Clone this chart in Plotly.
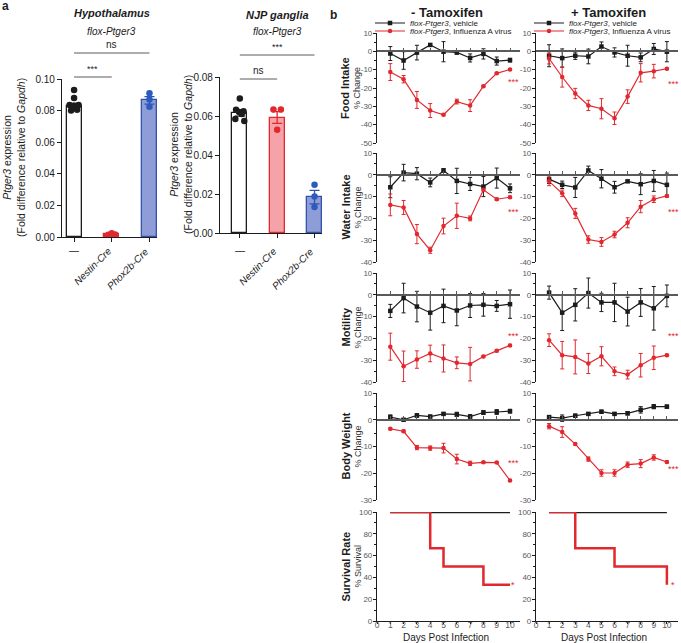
import plotly.graph_objects as go

W, H = 681, 643
FONT = "Arial, Liberation Sans, sans-serif"
INK = "#1c1c1c"
RED = "#e2282f"
BLUE = "#2a5cbf"
GREY = "#5a5a5a"

# ---- panel a: Ptger3 expression (qPCR)
genotypes = ["—", "Nestin-Cre", "Phox2b-Cre"]
hypo_mean = [0.0828, 0.0018, 0.0865]
hypo_sem = [0.0018, 0.0004, 0.0024]
hypo_dots = [
    [0.093, 0.088, 0.0835, 0.083, 0.0835, 0.0800, 0.0805],
    [0.0015, 0.0024, 0.0016],
    [0.0910, 0.0870, 0.0825],
]
njp_mean = [0.0615, 0.0592, 0.0184]
njp_sem = [0.0016, 0.0030, 0.0035]
njp_dots = [
    [0.069, 0.0632, 0.0625, 0.0620, 0.0610, 0.0585, 0.0575],
    [0.0633, 0.0633, 0.0530],
    [0.0247, 0.0187, 0.0133],
]

# ---- panel b: % change after infection, days 1-10
days = list(range(1, 11))

food_veh_m = [-1.2, -5.0, -0.7, 3.5, -0.2, -0.6, -3.6, -1.4, -5.3, -4.8]
food_veh_m_err = [3.8, 4.8, 4.0, 0.6, 5.5, 1.0, 2.2, 2.8, 2.2, 1.0]
food_flu_m = [-11.3, -15.2, -26.5, -32.3, -34.6, -27.4, -29.6, -19.0, -12.0, -9.9]
food_flu_m_err = [4.6, 2.0, 4.6, 3.8, 0.5, 1.3, 3.2, 0.5, 0.5, 0.5]
food_veh_p = [-2.4, -3.7, -2.4, -2.8, 2.6, -0.6, -2.4, -3.3, 1.3, -0.2]
food_veh_p_err = [6.0, 5.0, 2.0, 4.0, 2.5, 2.5, 5.7, 2.4, 3.0, 5.5]
food_flu_p = [-3.9, -14.0, -23.0, -29.5, -31.3, -36.5, -24.7, -11.7, -10.8, -9.5]
food_flu_p_err = [3.0, 5.5, 2.8, 2.8, 5.5, 3.4, 3.7, 5.0, 3.7, 0.5]

water_veh_m = [-5.7, 1.0, 0.5, -3.5, 2.0, -2.8, -4.2, -5.4, -1.5, -6.2]
water_veh_m_err = [4.8, 3.8, 2.8, 2.0, 0.8, 5.8, 3.0, 4.6, 4.6, 2.0]
water_flu_m = [-13.8, -15.0, -27.2, -34.6, -23.5, -18.8, -20.0, -6.9, -11.2, -10.3]
water_flu_m_err = [5.0, 3.2, 4.4, 1.4, 3.6, 5.8, 1.1, 0.5, 0.5, 0.5]
water_veh_p = [-2.0, -4.6, -5.8, 2.0, -1.8, -5.7, -3.0, -4.3, -2.8, -4.6]
water_veh_p_err = [2.0, 1.7, 4.6, 2.0, 4.2, 2.7, 0.5, 4.8, 4.8, 5.4]
water_flu_p = [-3.0, -8.5, -17.7, -29.7, -30.8, -27.4, -22.0, -14.6, -11.2, -9.7]
water_flu_p_err = [2.0, 1.5, 2.3, 1.7, 2.0, 1.5, 2.3, 2.8, 1.5, 0.5]

motil_veh_m = [-7.4, -1.5, -5.4, -8.2, -5.1, -7.2, -4.9, -4.6, -5.1, -4.3]
motil_veh_m_err = [3.0, 6.8, 7.0, 8.0, 7.7, 7.0, 5.5, 5.2, 2.5, 6.5]
motil_flu_m = [-23.8, -32.8, -29.7, -26.9, -29.2, -31.2, -31.8, -28.3, -25.7, -23.2]
motil_flu_m_err = [6.2, 7.0, 4.0, 3.8, 6.2, 2.7, 7.7, 0.5, 0.5, 0.5]
motil_veh_p = [1.0, -8.2, -4.6, 0.8, -3.5, -3.5, -7.7, -3.5, -6.2, -0.5]
motil_veh_p_err = [3.0, 8.2, 7.4, 6.9, 4.2, 8.8, 6.6, 6.4, 10.0, 5.0]
motil_flu_p = [-20.8, -27.7, -28.5, -31.5, -28.2, -35.1, -36.6, -32.3, -28.9, -27.7]
motil_flu_p_err = [2.9, 6.3, 7.8, 4.6, 4.4, 2.0, 2.0, 5.4, 5.4, 0.5]

bw_veh_m = [1.0, 0.0, 1.6, 1.2, 2.2, 2.0, 1.2, 2.7, 2.9, 3.2]
bw_veh_m_err = [0.8, 0.4, 0.7, 0.5, 0.5, 0.8, 0.7, 0.7, 0.9, 0.7]
bw_flu_m = [-3.4, -4.3, -10.4, -10.6, -10.6, -14.7, -16.3, -15.9, -16.0, -22.7]
bw_flu_m_err = [0.4, 0.5, 0.8, 0.8, 1.8, 1.8, 0.8, 0.3, 0.3, 0.4]
bw_veh_p = [1.0, 0.6, 1.5, 2.2, 3.0, 2.2, 2.4, 3.7, 4.9, 4.9]
bw_veh_p_err = [0.5, 1.2, 0.6, 0.5, 0.6, 0.5, 0.6, 1.2, 0.8, 0.6]
bw_flu_p = [-2.4, -4.6, -9.1, -14.7, -19.9, -19.9, -16.8, -16.4, -14.1, -15.8]
bw_flu_p_err = [1.0, 2.0, 0.4, 0.8, 1.2, 1.2, 1.0, 1.5, 1.0, 0.4]

surv_veh_days = [1, 10]
surv_veh = [100, 100]
surv_flu_days_m = [1, 4, 5, 8, 10]
surv_flu_m = [100, 66.7, 50, 33.3, 33.3]
surv_flu_days_p = [1, 3, 6, 10, 10]
surv_flu_p = [100, 66.7, 50, 50, 33.3]

# significance marks per row: (y value, text)
stars_m = [(-17, "***"), (-17, "***"), (-19, "***"), (-16, "***"), (33, "*")]
stars_p = [(-18, "***"), (-17, "***"), (-19, "***"), (-18.5, "***"), (33, "*")]


def xdom(a, b):
    return [a / W, b / W]


def ydom(top, bot):
    return [1 - bot / H, 1 - top / H]


def note(text, x, y, size, color=INK, xref="paper", yref="paper", **kw):
    d = dict(text=text, x=x, y=y, xref=xref, yref=yref, showarrow=False,
             xanchor="center", yanchor="middle", font=dict(size=size, color=color))
    d.update(kw)
    return d


fig = go.Figure()
layout = {}
annotations = []
shapes = []

# ---------------- panel a ----------------
a_panels = [
    (1, (62, 157), (79, 237), [-0.32, 2.2], 0.10, hypo_mean, hypo_sem, hypo_dots,
     "<b><i>Hypothalamus</i></b>", 13, 14),
    (2, (220, 322), (77, 233), [-0.53, 2.2], 0.08, njp_mean, njp_sem, njp_dots,
     "<b><i>NJP ganglia</i></b>", 15, 181),
]
bar_fill = [["white", RED, "#8e9cd8"], ["white", "#f5a3a8", "#8e9cd8"]]
bar_edge = [INK, RED, "#3452a8"]
dot_col = [INK, RED, BLUE]
dot_jit = [
    [[0, 0, -0.12, 0, 0.12, -0.08, 0.08], [-0.09, 0, 0.09], [0, 0, 0]],
    [[0, -0.1, 0.1, -0.02, 0.05, -0.12, 0.12], [-0.1, 0.1, 0], [0, 0, 0]],
]

for k, (ax, xd, yd, xr, ymax, means, sems, dots, title, ty, ytx) in enumerate(a_panels):
    xs = "x" if ax == 1 else "x%d" % ax
    ys = "y" if ax == 1 else "y%d" % ax
    for i in range(3):
        fig.add_trace(go.Bar(
            x=[i], y=[means[i]], width=0.4, xaxis=xs, yaxis=ys, showlegend=False,
            marker=dict(color=bar_fill[k][i], line=dict(color=bar_edge[i], width=1.3)),
            error_y=dict(type="data", array=[sems[i]], color=bar_edge[i],
                         thickness=1.3, width=5),
        ))
        fig.add_trace(go.Scatter(
            x=[i + j for j in dot_jit[k][i]], y=dots[i], mode="markers",
            xaxis=xs, yaxis=ys, showlegend=False, cliponaxis=False,
            marker=dict(color=dot_col[i], size=6.5),
        ))
    layout["xaxis" if ax == 1 else "xaxis%d" % ax] = dict(
        domain=xdom(*xd), range=xr, anchor=ys, showline=True, linecolor=INK, linewidth=1.2,
        ticks="outside", ticklen=4, tickcolor=INK, tickvals=[0, 1, 2], showticklabels=False,
        showgrid=False, zeroline=False,
    )
    layout["yaxis" if ax == 1 else "yaxis%d" % ax] = dict(
        domain=ydom(*yd), range=[0, ymax], anchor=xs, showline=True, linecolor=INK,
        linewidth=1.2, ticks="outside", ticklen=4, tickcolor=INK, dtick=0.02,
        tickformat=".2f", tickfont=dict(size=10, color=INK), showgrid=False, zeroline=False,
    )
    annotations.append(note(title, 1, 1 - ty / H, 11, xref=xs))
    annotations.append(note("<i>flox-Ptger3</i>", 1, 1 - 32 / H, 10, xref=xs))
    annotations.append(note(
        "<i>Ptger3</i> expression<br>(Fold difference relative to <i>Gapdh</i>)",
        ytx / W, 1 - (yd[0] + yd[1]) / 2 / H, 10.5, textangle=-90))
    annotations.append(note(genotypes[0], 0, 1 - 250 / H, 10, xref=xs))
    for i in (1, 2):
        annotations.append(note("<i>%s</i>" % genotypes[i], i + 0.12, 1 - 243 / H, 10,
                                xref=xs, xanchor="right", yanchor="top", textangle=-45))

# significance brackets panel a
brackets = [
    ("x", 0, 2, 53, "ns"), ("x", 0, 1, 77, "***"),
    ("x2", 0, 2, 55, "***"), ("x2", 0, 1, 79, "ns"),
]
for xs, a0, a1, ypx, txt in brackets:
    shapes.append(dict(type="line", xref=xs, yref="paper", x0=a0, x1=a1,
                       y0=1 - ypx / H, y1=1 - ypx / H, line=dict(color=GREY, width=1)))
    annotations.append(note(txt, (a0 + a1) / 2, 1 - (ypx - 1) / H,
                            10 if txt == "ns" else 9, xref=xs, yanchor="bottom"))

# ---------------- panel b ----------------
rows = [
    ("Food Intake", -50, 10, 33, 143),
    ("Water Intake", -40, 10, 153, 262),
    ("Motility", -40, 10, 273, 382),
    ("Body Weight", -30, 10, 393, 500),
    ("Survival Rate", 0, 100, 512, 621),
]
cols = [((377, 520), [0, 10.75]), ((536, 678), [0, 10.85])]
series = [
    [(food_veh_m, food_veh_m_err, food_flu_m, food_flu_m_err),
     (food_veh_p, food_veh_p_err, food_flu_p, food_flu_p_err)],
    [(water_veh_m, water_veh_m_err, water_flu_m, water_flu_m_err),
     (water_veh_p, water_veh_p_err, water_flu_p, water_flu_p_err)],
    [(motil_veh_m, motil_veh_m_err, motil_flu_m, motil_flu_m_err),
     (motil_veh_p, motil_veh_p_err, motil_flu_p, motil_flu_p_err)],
    [(bw_veh_m, bw_veh_m_err, bw_flu_m, bw_flu_m_err),
     (bw_veh_p, bw_veh_p_err, bw_flu_p, bw_flu_p_err)],
]
surv = [(surv_flu_days_m, surv_flu_m), (surv_flu_days_p, surv_flu_p)]
stars = [stars_m, stars_p]
star_x = [10.25, 10.5]
names = ["<i>flox-Ptger3</i>, vehicle", "<i>flox-Ptger3</i>, Influenza A virus"]
legend_ids = [["legend", "legend2"], ["legend3", "legend4"]]

for r, (label, ymin, ymax, top, bot) in enumerate(rows):
    step = 20 if r == 4 else 10
    yticks = list(range(ymin, ymax + 1, step))
    for c, (xpx, xr) in enumerate(cols):
        ax = 3 + r * 2 + c
        xs, ys = "x%d" % ax, "y%d" % ax
        yd = ydom(top, bot)
        if r < 4:
            veh, veh_e, flu, flu_e = series[r][c]
            for s, (y, e, col, sym) in enumerate(((veh, veh_e, INK, "square"),
                                                  (flu, flu_e, RED, "circle"))):
                fig.add_trace(go.Scatter(
                    x=days, y=y, mode="lines+markers", xaxis=xs, yaxis=ys, name=names[s],
                    legend=legend_ids[c][s], showlegend=(r == 0), cliponaxis=False,
                    line=dict(color=col, width=1.2), marker=dict(color=col, size=4.5, symbol=sym),
                    error_y=dict(type="data", array=e, color=col, thickness=1, width=2),
                ))
            pos = yd[0] + (0 - ymin) / (ymax - ymin) * (yd[1] - yd[0])
            xaxis = dict(anchor="free", position=pos, showticklabels=False, ticks="inside",
                         ticklen=3, tickcolor=GREY, linecolor=GREY, linewidth=1.5, dtick=1)
        else:
            fig.add_trace(go.Scatter(x=surv_veh_days, y=surv_veh, mode="lines", xaxis=xs,
                                     yaxis=ys, showlegend=False, line=dict(color=INK, width=2.5),
                                     cliponaxis=False))
            fig.add_trace(go.Scatter(x=surv[c][0], y=surv[c][1], mode="lines", xaxis=xs,
                                     yaxis=ys, showlegend=False, line_shape="hv",
                                     line=dict(color=RED, width=2.5), cliponaxis=False))
            xaxis = dict(anchor=ys, ticks="outside", ticklen=2, tickcolor=INK, linecolor=INK,
                         linewidth=1.2, dtick=1, tickfont=dict(size=8.5, color=GREY),
                         ticklabelstandoff=-6)
            annotations.append(note("Days Post Infection", (xpx[0] + xpx[1]) / 2 / W - 0.004,
                                    1 - 637.5 / H, 10))
        xaxis.update(domain=xdom(*xpx), range=xr, showgrid=False, zeroline=False, showline=True)
        layout["xaxis%d" % ax] = xaxis
        layout["yaxis%d" % ax] = dict(
            domain=yd, range=[ymin, ymax], anchor=xs, showline=True, linecolor=INK,
            linewidth=1.2, ticks="outside", ticklen=3, tickcolor=INK, showgrid=False,
            zeroline=False, tickfont=dict(size=8, color=GREY), ticklabelstandoff=-1,
            tickvals=yticks, ticktext=[str(v) for v in yticks],
            minor=dict(dtick=step / 2, ticks="outside", ticklen=2, tickcolor=INK),
        )
        sy, stxt = stars[c][r]
        annotations.append(note(stxt, star_x[c], sy, 9, color=RED, xref=xs, yref=ys))
    mid = 1 - (top + bot) / 2 / H
    annotations.append(note("<b>%s</b>" % label, 345 / W, mid, 11, textangle=-90))
    annotations.append(note("% Survival" if r == 4 else "% Change", 357 / W, mid, 9,
                            color="#333333", textangle=-90))

annotations.append(note("<b>- Tamoxifen</b>", 447 / W, 1 - 12 / H, 13))
annotations.append(note("<b>+ Tamoxifen</b>", 608 / W, 1 - 12 / H, 13))
annotations.append(note("<b>a</b>", 5 / W, 1 - 6 / H, 12))
annotations.append(note("<b>b</b>", 333 / W, 1 - 15 / H, 12))

leg = dict(yanchor="middle", xanchor="left", bgcolor="rgba(0,0,0,0)", itemwidth=30,
           font=dict(size=8, color=INK))
for c, lx in enumerate((370, 529)):
    layout[legend_ids[c][0]] = dict(leg, x=lx / W, y=1 - 23 / H)
    layout[legend_ids[c][1]] = dict(leg, x=lx / W, y=1 - 31 / H)

fig.update_layout(
    layout,
    width=W, height=H, margin=dict(l=0, r=0, t=0, b=0), template="none",
    paper_bgcolor="white", plot_bgcolor="white", font=dict(family=FONT, color=INK),
    annotations=annotations, shapes=shapes, bargap=0,
)
fig.write_html("out.html", config={"displayModeBar": False},
               post_script="document.body.style.margin='0px';")
